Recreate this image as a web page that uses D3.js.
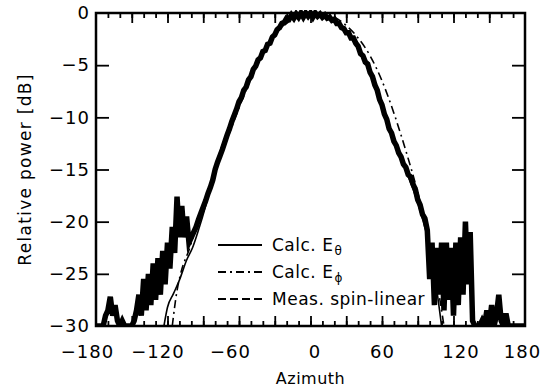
<!DOCTYPE html>
<html>
<head>
<meta charset="utf-8">
<script src="https://cdn.jsdelivr.net/npm/d3@7"></script>
<style>
  body { margin: 0; background: #fff; }
  svg { font-family: "DejaVu Sans", sans-serif; }
</style>
</head>
<body>
<svg id="chart" width="554" height="391"></svg>
<script>
// azimuth ticks and dB ticks
const xTicks = [-180, -120, -60, 0, 60, 120, 180];
const yTicks = [0, -5, -10, -15, -20, -25, -30];

// Calc. E-theta (solid)
const calcThetaAz = [-123, -120, -115, -110, -104, -99, -94, -88, -80, -70, -60, -50, -40, -30, -20, -10, 0, 10, 20, 30, 40, 50, 60, 70, 80, 90, 98, 104, 110];
const calcThetaDb = [-30, -28.2, -26.9, -25.6, -23.7, -22.5, -20.8, -18.5, -14.8, -11.4, -8.5, -6.0, -3.9, -2.1, -0.9, -0.2, 0, -0.1, -0.6, -1.7, -3.2, -5.4, -8.6, -12.2, -15.1, -18.2, -21.5, -25, -30];

// Calc. E-phi (dash-dot)
const calcPhiAz = [-116, -112, -109, -101, -93, -87, -80, -70, -60, -50, -40, -30, -20, -10, 0, 10, 20, 30, 40, 50, 60, 70, 80, 90, 98, 105, 112];
const calcPhiDb = [-30, -26.6, -25, -22.4, -19.2, -17.6, -15.2, -12.1, -9.1, -6.3, -4.0, -2.2, -1.0, -0.3, 0, 0, -0.4, -1.2, -2.4, -4.1, -6.5, -9.6, -13.2, -17.2, -21, -25, -30];

// Meas. spin-linear, sampled every 2 degrees from -180 to 180
const measAz = d3.range(-180, 181, 2);
const measDb = [
  -30, -30, -30, -30, -29, -28.5, -27.2, -29, -28, -29.5,            // -180 .. -162
  -30, -29.5, -30, -30, -30, -30, -29.5, -28.5, -27, -29,            // -160 .. -142
  -25.5, -28.5, -25, -28, -24, -27.5, -23.5, -27, -22.8, -26,        // -140 .. -122
  -22, -24.5, -20.5, -23, -17.6, -21.5, -18.5, -21.5, -19.5, -22,    // -120 .. -102
  -21.5, -21, -20.5, -19.8, -19.2, -18.6, -18.0, -17.3, -16.7, -16.0, // -100 .. -82
  -15.0, -14.3, -13.7, -13.1, -12.4, -11.7, -11.1, -10.4, -9.8, -9.2, // -80 .. -62
  -8.5, -8.1, -7.4, -7.1, -6.4, -6.1, -5.4, -5.1, -4.5, -4.3,         // -60 .. -42
  -3.7, -3.6, -3.0, -2.9, -2.3, -2.1, -1.6, -1.4, -1.0, -0.9,         // -40 .. -22
  -0.5, -0.6, -0.2, -0.5, -0.1, -0.4, 0, -0.4, 0, -0.3,               // -20 .. -2
  0, -0.4, 0, -0.3, -0.1, -0.4, -0.2, -0.5, -0.4, -0.7,               // 0 .. 18
  -0.6, -1.0, -1.0, -1.4, -1.5, -1.9, -1.9, -2.4, -2.4, -2.9,         // 20 .. 38
  -3.2, -3.9, -4.1, -4.7, -4.9, -5.7, -6.1, -6.9, -7.4, -8.3,         // 40 .. 58
  -8.8, -9.7, -10.2, -11.1, -11.5, -12.3, -12.7, -13.4, -13.8, -14.5, // 60 .. 78
  -14.8, -15.5, -15.7, -16.4, -16.9, -17.9, -18.4, -19.3, -19.7, -20.8, // 80 .. 98
  -25.5, -22, -28, -22.5, -27, -22, -28.5, -22, -27.5, -22.5,         // 100 .. 118
  -29, -22, -28, -21.5, -27, -20, -26, -21, -29.5, -30,               // 120 .. 138
  -30, -30, -29.5, -30, -28.5, -30, -28, -30, -29, -27,               // 140 .. 158
  -29.5, -30, -28.8, -30, -30, -30, -30, -30, -30, -30,               // 160 .. 178
  -30                                                                 // 180
];

const svg = d3.select('#chart');
const margin = { left: 96, right: 29, top: 13, bottom: 65 };
const width = 554 - margin.left - margin.right;
const height = 391 - margin.top - margin.bottom;

const x = d3.scaleLinear().domain([-180, 180]).range([0, width]);
const y = d3.scaleLinear().domain([-30, 0]).range([height, 0]);

const g = svg.append('g')
  .attr('transform', 'translate(' + margin.left + ',' + margin.top + ')');

g.append('clipPath').attr('id', 'clip')
  .append('rect').attr('x', 0).attr('y', -3).attr('width', width).attr('height', height + 3);

const line = d3.line().x(d => x(d[0])).y(d => y(d[1]));
const plot = g.append('g').attr('clip-path', 'url(#clip)');

// measured data: thick, noisy trace
plot.append('path')
  .datum(measAz.map((a, i) => [a, measDb[i]]))
  .attr('d', line)
  .attr('fill', 'none')
  .attr('stroke', '#000')
  .attr('stroke-width', 5.5)
  .attr('stroke-linejoin', 'miter');

plot.append('path')
  .datum(calcPhiAz.map((a, i) => [a, calcPhiDb[i]]))
  .attr('d', line.curve(d3.curveMonotoneX))
  .attr('fill', 'none')
  .attr('stroke', '#000')
  .attr('stroke-width', 1.6)
  .attr('stroke-dasharray', '8,4,2,4');

plot.append('path')
  .datum(calcThetaAz.map((a, i) => [a, calcThetaDb[i]]))
  .attr('d', line.curve(d3.curveMonotoneX))
  .attr('fill', 'none')
  .attr('stroke', '#000')
  .attr('stroke-width', 1.6);

// axes: ticks inward on all four sides
const xMinor = d3.range(-170, 180, 10);
const xMajor = d3.range(-150, 180, 30);

g.append('g')
  .attr('transform', 'translate(0,' + height + ')')
  .call(d3.axisBottom(x).tickValues(xMinor).tickSize(-5).tickFormat(''));
g.append('g')
  .attr('transform', 'translate(0,' + height + ')')
  .call(d3.axisBottom(x).tickValues(xMajor).tickSize(-10).tickFormat(''));
g.append('g')
  .call(d3.axisTop(x).tickValues(xMinor).tickSize(-5).tickFormat(''));
g.append('g')
  .call(d3.axisTop(x).tickValues(xMajor).tickSize(-10).tickFormat(''));

g.append('g')
  .call(d3.axisLeft(y).tickValues(yTicks.slice(1, -1)).tickSize(-13).tickFormat(''));
g.append('g')
  .attr('transform', 'translate(' + width + ',0)')
  .call(d3.axisRight(y).tickValues(yTicks.slice(1, -1)).tickSize(-13).tickFormat(''));

// tick labels (the scanned labels sit a little off their ticks)
const labelNudge = { '-180': -9, '-120': -10, '-60': -9, '0': 4, '60': 0, '120': 7, '180': -3 };
g.append('g')
  .attr('class', 'labels')
  .attr('transform', 'translate(0,' + height + ')')
  .call(d3.axisBottom(x).tickValues(xTicks).tickSize(0).tickPadding(19))
  .selectAll('text')
  .attr('dx', d => labelNudge[d]);
g.append('g')
  .attr('class', 'labels')
  .call(d3.axisLeft(y).tickValues(yTicks).tickSize(0).tickPadding(6));
g.selectAll('.labels text')
  .attr('fill', '#000')
  .attr('font-family', '"DejaVu Sans", sans-serif')
  .style('font-size', '18px')
  .style('letter-spacing', '1px');

g.selectAll('.tick line').attr('stroke', '#000').attr('stroke-width', 1.8);
g.selectAll('.domain').remove();

// frame
g.append('rect')
  .attr('width', width).attr('height', height)
  .attr('fill', 'none').attr('stroke', '#000').attr('stroke-width', 2.5);

// axis titles
svg.append('text')
  .attr('x', margin.left + width / 2)
  .attr('y', 384)
  .attr('text-anchor', 'middle')
  .style('font-size', '16px')
  .style('letter-spacing', '0.5px')
  .text('Azimuth');

svg.append('text')
  .attr('transform', 'translate(31,' + (margin.top + height / 2) + ') rotate(-90)')
  .attr('text-anchor', 'middle')
  .style('font-size', '17px')
  .style('letter-spacing', '1.3px')
  .text('Relative power [dB]');

// legend
const legendItems = [
  { name: 'Calc. E', sub: 'θ', dash: null },
  { name: 'Calc. E', sub: 'ϕ', dash: '8,4,2,4' },
  { name: 'Meas. spin-linear', sub: '', dash: '8,4' }
];
const legend = svg.append('g').attr('transform', 'translate(218,245)');
legendItems.forEach((d, i) => {
  const row = legend.append('g').attr('transform', 'translate(0,' + i * 27 + ')');
  row.append('line')
    .attr('x1', 0).attr('x2', 44).attr('y1', 0).attr('y2', 0)
    .attr('stroke', '#000').attr('stroke-width', 1.8)
    .attr('stroke-dasharray', d.dash);
  const t = row.append('text').attr('x', 54).attr('y', 6)
    .style('font-size', '17px').style('letter-spacing', '0.5px').text(d.name);
  if (d.sub) {
    t.append('tspan').attr('dx', 1).attr('dy', 4).style('font-size', '12px').text(d.sub);
  }
});
</script>
</body>
</html>
